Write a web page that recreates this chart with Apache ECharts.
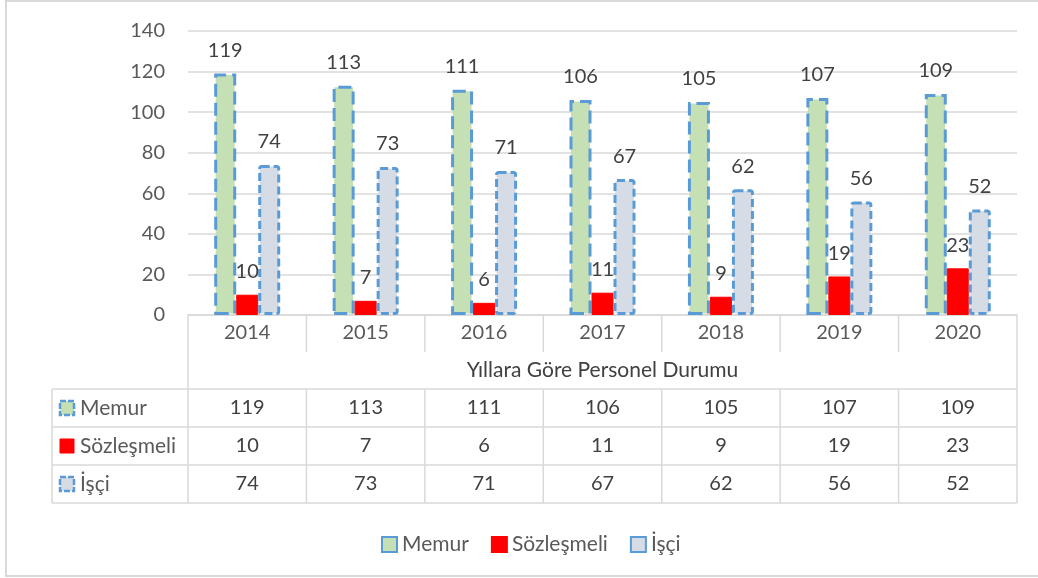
<!DOCTYPE html>
<html lang="tr">
<head>
    <meta charset="UTF-8">
    <title>Yıllara Göre Personel Durumu</title>
    <script src="https://cdnjs.cloudflare.com/ajax/libs/echarts/6.0.0/echarts.min.js"></script>
    <style>
        html, body { margin: 0; padding: 0; background: #fff; }
        #main { width: 1038px; height: 578px; }
    </style>
</head>
<body>
    <div id="main"></div>
    <script>
        // veriler
        const years = ['2014', '2015', '2016', '2017', '2018', '2019', '2020'];
        const memur = [119, 113, 111, 106, 105, 107, 109];
        const sozlesmeli = [10, 7, 6, 11, 9, 19, 23];
        const isci = [74, 73, 71, 67, 62, 56, 52];
        const seriesNames = ['Memur', 'Sözleşmeli', 'İşçi'];
        const axisTitle = 'Yıllara Göre Personel Durumu';

        const chart = echarts.init(document.getElementById('main'));

        const FONT = 'Lato, "Open Sans", sans-serif';
        const gridL = 188, gridR = 1017, gridT = 31, gridB = 315;
        const tableL = 52;
        const rowY = [315, 352, 389, 427, 465, 503];
        const lineCol = '#D9D9D9';
        const textCol = '#404040';
        const axisCol = '#595959';

        const styles = [
            { color: '#C5E0B4', borderColor: '#5B9BD5', borderWidth: 3, borderType: [13, 6] },
            { color: '#FF0000', borderColor: '#FF0000', borderWidth: 1 },
            { color: '#D6DCE5', borderColor: '#5B9BD5', borderWidth: 3, borderType: [8, 4], borderRadius: 2 }
        ];
        const allData = [memur, sozlesmeli, isci];

        // tablo çizgileri ve metinleri
        function buildTable() {
            const g = [];
            const cw = (gridR - gridL) / years.length;
            const line = (x1, y1, x2, y2) => g.push({
                type: 'line', silent: true,
                shape: { x1: x1, y1: y1, x2: x2, y2: y2 },
                style: { stroke: lineCol, lineWidth: 1.5 }
            });
            // dış çerçeve
            g.push({
                type: 'rect', silent: true,
                shape: { x: 6, y: 1, width: 1040, height: 575 },
                style: { fill: null, stroke: lineCol, lineWidth: 2 }
            });
            for (let k = 0; k <= years.length; k++) {
                const x = gridL + k * cw;
                line(x, rowY[0], x, rowY[1]);
                line(x, rowY[2], x, rowY[5]);
            }
            line(gridL, rowY[1], gridL, rowY[2]);
            line(gridR, rowY[1], gridR, rowY[2]);
            line(tableL, rowY[2], tableL, rowY[5]);
            for (let r = 2; r <= 5; r++) line(tableL, rowY[r], gridR, rowY[r]);

            g.push({
                type: 'text', silent: true,
                style: {
                    x: (gridL + gridR) / 2, y: (rowY[1] + rowY[2]) / 2,
                    text: axisTitle, align: 'center', verticalAlign: 'middle',
                    font: '21px ' + FONT, fill: textCol
                }
            });

            for (let s = 0; s < 3; s++) {
                const yc = (rowY[s + 2] + rowY[s + 3]) / 2;
                const st = styles[s];
                g.push({
                    type: 'rect', silent: true,
                    shape: { x: 60, y: yc - 7, width: 14, height: 14 },
                    style: {
                        fill: st.color, stroke: st.borderColor,
                        lineWidth: s === 1 ? 1 : 2.5,
                        lineDash: s === 1 ? null : [6, 2]
                    }
                });
                g.push({
                    type: 'text', silent: true,
                    style: {
                        x: 80, y: yc, text: seriesNames[s],
                        verticalAlign: 'middle', font: '21px ' + FONT, fill: axisCol
                    }
                });
                for (let i = 0; i < years.length; i++) {
                    g.push({
                        type: 'text', silent: true,
                        style: {
                            x: gridL + (i + 0.5) * cw, y: yc,
                            text: String(allData[s][i]), align: 'center',
                            verticalAlign: 'middle', font: '20px ' + FONT, fill: textCol
                        }
                    });
                }
            }
            return g;
        }

        const option = {
            animation: false,
            textStyle: { fontFamily: FONT },
            grid: { left: gridL, right: 1038 - gridR, top: gridT, bottom: 578 - gridB },
            legend: {
                data: seriesNames,
                left: 376, top: 529,
                itemWidth: 15, itemHeight: 15, itemGap: 22,
                icon: 'rect',
                textStyle: { fontSize: 21, color: axisCol, fontFamily: FONT }
            },
            xAxis: {
                type: 'category',
                data: years,
                axisLine: { show: true, lineStyle: { color: lineCol, width: 1.5 } },
                axisTick: { show: false },
                axisLabel: { fontSize: 20, color: axisCol, margin: 8, fontFamily: FONT }
            },
            yAxis: {
                type: 'value',
                min: 0, max: 140, interval: 20,
                axisLine: { show: false },
                axisTick: { show: false },
                axisLabel: { fontSize: 20, color: axisCol, margin: 23, fontFamily: FONT },
                splitLine: { lineStyle: { color: lineCol, width: 1.5 } }
            },
            series: allData.map((d, s) => ({
                name: seriesNames[s],
                type: 'bar',
                data: d,
                barWidth: 22,
                barGap: '0%',
                itemStyle: styles[s],
                label: {
                    show: true, position: 'top', distance: 13,
                    fontSize: 20, color: textCol, fontFamily: FONT
                }
            })),
            graphic: buildTable()
        };

        chart.setOption(option);
    </script>
</body>
</html>
